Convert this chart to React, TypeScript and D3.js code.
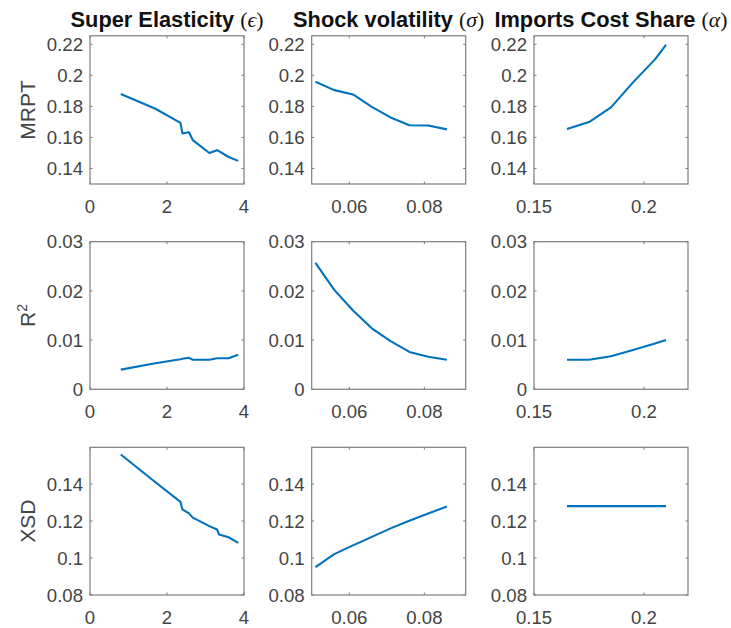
import React from 'react';
import * as d3 from 'd3';

// column 1: super elasticity
const epsVals = [0.8, 1.7, 2.35, 2.4, 2.57, 2.67, 3.1, 3.3, 3.35, 3.6, 3.85];
const mrptEps = [0.188, 0.1785, 0.1694, 0.1626, 0.1634, 0.1583, 0.15, 0.1518, 0.1512, 0.1474, 0.1449];
const r2Eps = [0.004, 0.0053, 0.0061, 0.0062, 0.0064, 0.006, 0.006, 0.0063, 0.0063, 0.0063, 0.007];
const xsdEps = [0.1559, 0.1409, 0.1303, 0.1263, 0.1241, 0.1218, 0.1172, 0.1154, 0.1127, 0.1112, 0.1082];

// column 2: shock volatility
const sigmaVals = [0.051, 0.056, 0.061, 0.066, 0.071, 0.076, 0.081, 0.086];
const mrptSigma = [0.1959, 0.1905, 0.1877, 0.1797, 0.1729, 0.1679, 0.1677, 0.1652];
const r2Sigma = [0.0257, 0.0202, 0.016, 0.0124, 0.0098, 0.0076, 0.0066, 0.006];
const xsdSigma = [0.0951, 0.1021, 0.1068, 0.1114, 0.1160, 0.1201, 0.1240, 0.1278];

// column 3: imports cost share
const alphaVals = [0.165, 0.175, 0.185, 0.195, 0.205, 0.21];
const mrptAlpha = [0.1654, 0.1699, 0.1794, 0.1955, 0.2103, 0.2197];
const r2Alpha = [0.006, 0.006, 0.0067, 0.008, 0.0093, 0.01];
const xsdAlpha = [0.128, 0.128, 0.128, 0.128, 0.128, 0.128];

const colTitles = ['Super Elasticity', 'Shock volatility', 'Imports Cost Share'];
const colGreek = ['\u03F5', '\u03C3', '\u03B1'];
const xDomains: [number, number][] = [[0, 4], [0.05, 0.091], [0.15, 0.22]];
const xTicks = [[0, 2, 4], [0.06, 0.08], [0.15, 0.2]];

const rowLabels = ['MRPT', 'R', 'XSD'];
const yDomains: [number, number][] = [[0.13, 0.2255], [0, 0.03], [0.08, 0.1598]];
const yTicks = [[0.14, 0.16, 0.18, 0.2, 0.22], [0, 0.01, 0.02, 0.03], [0.08, 0.1, 0.12, 0.14]];

const xsByCol = [epsVals, sigmaVals, alphaVals];
const ysByCell = [
  [mrptEps, mrptSigma, mrptAlpha],
  [r2Eps, r2Sigma, r2Alpha],
  [xsdEps, xsdSigma, xsdAlpha],
];

// layout
const colLeft = [90, 311.7, 534];
const colWidth = 154;
const rowBox = [
  { top: 35.8, bottom: 184 },
  { top: 241.7, bottom: 389.3 },
  { top: 447.3, bottom: 595 },
];

const SANS = "'Liberation Sans', Arial, Helvetica, sans-serif";
const SERIF = "'Liberation Serif', 'DejaVu Serif', serif";
const AXIS = '#7d7d7d';
const LABEL = '#444';
const LINE = '#0072BD';
const TICK = 2.5;

function Panel({ r, c }: { r: number; c: number }) {
  const x0 = colLeft[c];
  const x1 = x0 + colWidth;
  const { top, bottom } = rowBox[r];
  const x = d3.scaleLinear().domain(xDomains[c]).range([x0, x1]);
  const y = d3.scaleLinear().domain(yDomains[r]).range([bottom, top]);
  const xs = xsByCol[c];
  const ys = ysByCell[r][c];
  const line = d3
    .line<number>()
    .x((_, i) => x(xs[i]))
    .y((d) => y(d));

  return (
    <g>
      <rect x={x0} y={top} width={colWidth} height={bottom - top} fill="none" stroke={AXIS} strokeWidth={1.2} />
      {xTicks[c].map((t) => (
        <g key={'x' + t}>
          <line x1={x(t)} x2={x(t)} y1={bottom} y2={bottom - TICK} stroke={AXIS} strokeWidth={1} />
          <line x1={x(t)} x2={x(t)} y1={top} y2={top + TICK} stroke={AXIS} strokeWidth={1} />
          <text x={x(t)} y={bottom + 29} textAnchor="middle" fontFamily={SANS} fontSize={18.6} fill={LABEL}>
            {String(t)}
          </text>
        </g>
      ))}
      {yTicks[r].map((t) => (
        <g key={'y' + t}>
          <line x1={x0} x2={x0 + TICK} y1={y(t)} y2={y(t)} stroke={AXIS} strokeWidth={1} />
          <line x1={x1} x2={x1 - TICK} y1={y(t)} y2={y(t)} stroke={AXIS} strokeWidth={1} />
          <text x={x0 - 7} y={y(t) + 6.6} textAnchor="end" fontFamily={SANS} fontSize={18.6} fill={LABEL}>
            {String(t)}
          </text>
        </g>
      ))}
      <path d={line(ys) || ''} fill="none" stroke={LINE} strokeWidth={2.1} strokeLinejoin="round" />
    </g>
  );
}

export default function App() {
  return (
    <svg
      width={731}
      height={628}
      style={{ position: 'absolute', left: 0, top: 0, background: '#fff' }}
    >
      <rect width={731} height={628} fill="#fff" />
      {colTitles.map((t, c) => (
        <text
          key={t}
          x={colLeft[c] + colWidth / 2}
          y={27}
          textAnchor="middle"
          fontFamily={SANS}
          fontWeight="bold"
          fontSize={21.8}
          fill="#111"
        >
          {t + ' '}
          <tspan fontFamily={SERIF} fontWeight="normal">(</tspan>
          <tspan fontFamily={SERIF} fontWeight="normal" fontStyle="italic">{colGreek[c]}</tspan>
          <tspan fontFamily={SERIF} fontWeight="normal">)</tspan>
        </text>
      ))}
      {rowLabels.map((lab, r) => {
        const cy = (rowBox[r].top + rowBox[r].bottom) / 2;
        return (
          <text
            key={lab}
            transform={`translate(35,${cy}) rotate(-90)`}
            textAnchor="middle"
            fontFamily={SANS}
            fontSize={21}
            fill={LABEL}
          >
            {lab}
            {r === 1 && (
              <tspan fontSize={14} dy={-8}>2</tspan>
            )}
          </text>
        );
      })}
      {[0, 1, 2].map((r) => [0, 1, 2].map((c) => <Panel key={`${r}-${c}`} r={r} c={c} />))}
    </svg>
  );
}
